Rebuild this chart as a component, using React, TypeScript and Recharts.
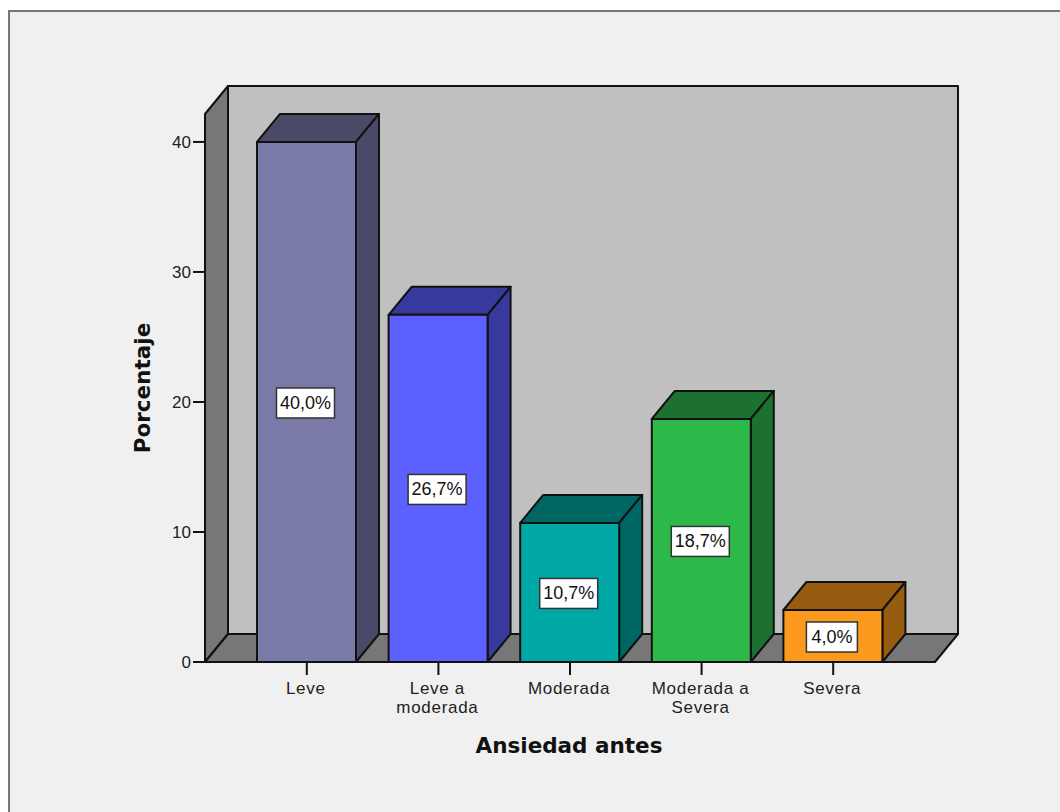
import { BarChart, Bar, XAxis, YAxis, LabelList, ReferenceArea } from "recharts";

const categories = ["Leve", "Leve a\nmoderada", "Moderada", "Moderada a\nSevera", "Severa"];
const percentages = [40.0, 26.7, 10.7, 18.7, 4.0];
const yTicks = [0, 10, 20, 30, 40];

const frontColors = ["#7a7aa8", "#5b60ff", "#00a8a5", "#2db84a", "#fb9a1e"];
const sideColors = ["#4a4a68", "#37399c", "#006663", "#1c7030", "#985c10"];

const data = categories.map((name, i) => ({ name, value: percentages[i] }));

// offset of the fake 3D extrusion
const DEPTH_X = 23;
const DEPTH_Y = 28;
// gap between the axis ends and the outer category bands
const AXIS_PAD = 36;
const INK = "#111";
const SANS = "'Liberation Sans', Arial, sans-serif";
const TITLE = "'DejaVu Sans', Verdana, sans-serif";

const poly = (pts: number[][]) => pts.map((p) => p.join(",")).join(" ");

// left wall, floor and back wall of the box
// the area only spans the category bands, so widen it back out to the axis ends
const Walls = ({ x: bandLeft, y, width: bandWidth, height }: any) => {
  const x = bandLeft - AXIS_PAD;
  const width = bandWidth + AXIS_PAD * 2;
  const bottom = y + height;
  const right = x + width;
  return (
    <g stroke={INK} strokeWidth={2} strokeLinejoin="round">
      <rect x={x + DEPTH_X} y={y - DEPTH_Y} width={width} height={height} fill="#c0c0c0" />
      <polygon
        points={poly([[x, y], [x + DEPTH_X, y - DEPTH_Y], [x + DEPTH_X, bottom - DEPTH_Y], [x, bottom]])}
        fill="#777777"
      />
      <polygon
        points={poly([[x, bottom], [x + DEPTH_X, bottom - DEPTH_Y], [right + DEPTH_X, bottom - DEPTH_Y], [right, bottom]])}
        fill="#777777"
      />
    </g>
  );
};

const Box = ({ x, y, width, height, index }: any) => {
  const dark = sideColors[index];
  const r = x + width;
  return (
    <g stroke={INK} strokeWidth={2} strokeLinejoin="round">
      <polygon
        points={poly([[x, y], [x + DEPTH_X, y - DEPTH_Y], [r + DEPTH_X, y - DEPTH_Y], [r, y]])}
        fill={dark}
      />
      <polygon
        points={poly([[r, y], [r + DEPTH_X, y - DEPTH_Y], [r + DEPTH_X, y + height - DEPTH_Y], [r, y + height]])}
        fill={dark}
      />
      <rect x={x} y={y} width={width} height={height} fill={frontColors[index]} />
    </g>
  );
};

const ValueTag = ({ x, y, width, height, value }: any) => {
  const cx = x + width / 2 - 1;
  const cy = y + height / 2 + 1;
  const text = `${Number(value).toFixed(1).replace(".", ",")}%`;
  const w = text.length > 4 ? 58 : 51;
  return (
    <g>
      <rect x={cx - w / 2} y={cy - 15} width={w} height={30} fill="#fff" stroke="#333" strokeWidth={1.5} />
      <text x={cx} y={cy + 6} textAnchor="middle" fontFamily={SANS} fontSize={18} fill="#111">
        {text}
      </text>
    </g>
  );
};

const CategoryTick = ({ x, y, payload }: any) => (
  <text textAnchor="middle" fontFamily={SANS} fontSize={17} letterSpacing={0.7} fill="#222">
    {String(payload.value)
      .split("\n")
      .map((line, i) => (
        <tspan key={line} x={x - 1} y={y + 17 + i * 19}>
          {line}
        </tspan>
      ))}
  </text>
);

export default function App() {
  return (
    <div style={{ position: "absolute", left: 0, top: 0, width: 1060, height: 812, background: "#fff", overflow: "hidden" }}>
      <div
        style={{
          position: "absolute",
          left: 8,
          top: 10,
          width: 1052,
          height: 802,
          boxSizing: "border-box",
          background: "#f0f0f0",
          borderLeft: "2px solid #777",
          borderTop: "2px solid #777",
        }}
      />
      <div style={{ position: "absolute", left: 0, top: 0 }}>
        <BarChart
          width={1060}
          height={812}
          data={data}
          margin={{ top: 114, right: 125, bottom: 60, left: 0 }}
          barSize={99}
        >
          <ReferenceArea y1={0} y2={42.15} shape={Walls} ifOverflow="visible" />
          <XAxis
            dataKey="name"
            height={90}
            interval={0}
            padding={{ left: AXIS_PAD, right: AXIS_PAD }}
            stroke={INK}
            strokeWidth={2}
            tickSize={13}
            tick={CategoryTick}
            label={{
              value: "Ansiedad antes",
              position: "insideBottom",
              dy: 6,
              dx: -1,
              fontFamily: TITLE,
              fontWeight: 700,
              fontSize: 21.5,
              fill: "#111",
            }}
          />
          <YAxis
            width={205}
            domain={[0, 42.15]}
            ticks={yTicks}
            interval={0}
            stroke={INK}
            strokeWidth={2}
            tickSize={12}
            tickMargin={2}
            tick={{ fontFamily: SANS, fontSize: 17, fill: "#222" }}
            label={{
              value: "Porcentaje",
              angle: -90,
              position: "center",
              dx: 40,
              fontFamily: TITLE,
              fontWeight: 700,
              fontSize: 21.5,
              fill: "#111",
            }}
          />
          <Bar dataKey="value" shape={Box} isAnimationActive={false}>
            <LabelList dataKey="value" content={ValueTag} />
          </Bar>
        </BarChart>
      </div>
    </div>
  );
}
